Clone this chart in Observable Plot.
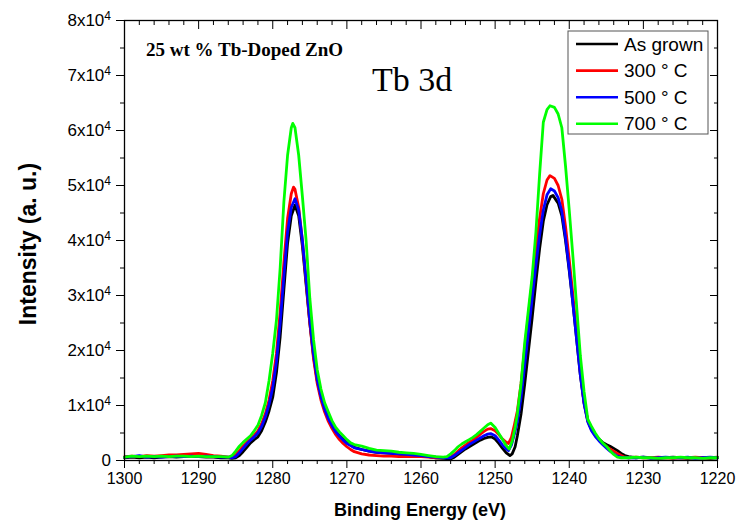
<!DOCTYPE html>
<html><head><meta charset="utf-8">
<script src="https://cdn.jsdelivr.net/npm/d3@7"></script>
<script src="https://cdn.jsdelivr.net/npm/@observablehq/plot@0.6"></script>
<style>body{margin:0;background:#fff}</style>
</head><body><div id="chart"></div>
<script>
// Binding energy (eV), intensity (counts) pairs
const asGrown = [[1300,500],[1299,600],[1298,500],[1297,600],[1296,500],[1295,600],[1294,700],[1293,600],[1292,700],[1291,800],[1290,700],[1289,600],[1288,600],[1287,500],[1286,500],[1285.5,400],[1285,500],[1284.5,900],[1284,1600],[1283.5,2400],[1283,3200],[1282.5,3800],[1282,4300],[1281.5,5400],[1281,7000],[1280.5,9000],[1280,11500],[1279.5,16000],[1279,22500],[1278.5,31000],[1278,39500],[1277.5,44500],[1277,46400],[1276.5,44500],[1276,39000],[1275.5,32000],[1275,25000],[1274.5,19000],[1274,14500],[1273.5,11500],[1273,9300],[1272.5,7700],[1272,6400],[1271.5,5300],[1271,4500],[1270.5,3900],[1270,3300],[1269.5,2800],[1269,2400],[1268,2000],[1267,1700],[1266,1500],[1265,1400],[1264,1300],[1263,1100],[1262,1000],[1261,900],[1260,800],[1259,700],[1258,500],[1257,400],[1256,300],[1255.5,600],[1255,1100],[1254.5,1600],[1254,2100],[1253.5,2500],[1253,2900],[1252.5,3300],[1252,3700],[1251.5,4000],[1251,4200],[1250.5,4300],[1250,3900],[1249.5,3100],[1249,2200],[1248.5,1400],[1248,900],[1247.7,1200],[1247.3,2500],[1247,4500],[1246.5,8500],[1246,14000],[1245.5,20000],[1245,26000],[1244.5,32500],[1244,38500],[1243.5,43500],[1243,46500],[1242.5,48000],[1242.2,48200],[1242,47800],[1241.5,46800],[1241,44500],[1240.5,40000],[1240,34500],[1239.5,28500],[1239,22000],[1238.5,15500],[1238,10500],[1237.5,7300],[1237,5700],[1236.5,4700],[1236,3900],[1235.5,3300],[1235,2900],[1234.5,2600],[1234,2200],[1233.5,1800],[1233,1300],[1232.5,900],[1232,700],[1231,500],[1230,600],[1229,500],[1228,400],[1227,500],[1226,600],[1225,500],[1224,400],[1223,500],[1222,500],[1221,400],[1220,500]];
const t300 = [[1300,700],[1299,800],[1298,700],[1297,900],[1296,800],[1295,900],[1294,1000],[1293,1000],[1292,1100],[1291,1200],[1290,1300],[1289,1100],[1288,900],[1287,800],[1286,600],[1285.5,600],[1285,1000],[1284.5,1800],[1284,2600],[1283.5,3300],[1283,3900],[1282.5,4600],[1282,5400],[1281.5,6700],[1281,8500],[1280.5,11000],[1280,14500],[1279.5,19500],[1279,27000],[1278.5,36000],[1278,44000],[1277.5,48500],[1277.2,49700],[1277,49300],[1276.5,46000],[1276,40000],[1275.5,32500],[1275,25000],[1274.5,18500],[1274,14000],[1273.5,11000],[1273,8800],[1272.5,7100],[1272,5800],[1271.5,4700],[1271,3800],[1270.5,3100],[1270,2500],[1269.5,2000],[1269,1600],[1268,1200],[1267,1000],[1266,900],[1265,800],[1264,800],[1263,700],[1262,700],[1261,700],[1260,700],[1259,600],[1258,500],[1257,500],[1256,600],[1255.5,1100],[1255,1700],[1254.5,2300],[1254,2800],[1253.5,3300],[1253,3700],[1252.5,4200],[1252,4800],[1251.5,5300],[1251,5700],[1250.6,5800],[1250,5400],[1249.5,4700],[1249,3900],[1248.5,3300],[1248.2,3100],[1247.8,4200],[1247.4,6500],[1247,9000],[1246.5,14000],[1246,20500],[1245.5,26500],[1245,32500],[1244.5,38500],[1244,44000],[1243.5,48500],[1243,51000],[1242.6,51800],[1242,51300],[1241.5,50000],[1241,47500],[1240.5,42500],[1240,36500],[1239.5,30000],[1239,23000],[1238.5,16000],[1238,10500],[1237.5,7200],[1237,5600],[1236.5,4600],[1236,3800],[1235.5,3100],[1235,2500],[1234.5,2100],[1234,1700],[1233.5,1300],[1233,900],[1232.5,600],[1232,500],[1231,600],[1230,500],[1229,500],[1228,600],[1227,500],[1226,400],[1225,500],[1224,500],[1223,600],[1222,500],[1221,500],[1220,600]];
const t500 = [[1300,600],[1299,700],[1298,900],[1297,600],[1296,700],[1295,600],[1294,700],[1293,800],[1292,700],[1291,800],[1290,700],[1289,800],[1288,700],[1287,600],[1286,600],[1285.5,500],[1285,700],[1284.5,1400],[1284,2200],[1283.5,3000],[1283,3700],[1282.5,4300],[1282,5000],[1281.5,6200],[1281,7900],[1280.5,10200],[1280,13300],[1279.5,18000],[1279,25000],[1278.5,33500],[1278,41500],[1277.5,46000],[1277,47600],[1276.5,45500],[1276,40000],[1275.5,32800],[1275,25500],[1274.5,19300],[1274,14700],[1273.5,11600],[1273,9300],[1272.5,7600],[1272,6300],[1271.5,5200],[1271,4400],[1270.5,3700],[1270,3100],[1269.5,2700],[1269,2300],[1268,2000],[1267,1700],[1266,1500],[1265,1400],[1264,1300],[1263,1200],[1262,1100],[1261,1000],[1260,900],[1259,700],[1258,600],[1257,500],[1256,500],[1255.5,900],[1255,1400],[1254.5,1900],[1254,2400],[1253.5,2900],[1253,3300],[1252.5,3700],[1252,4100],[1251.5,4500],[1251,4800],[1250.6,4900],[1250,4500],[1249.5,3700],[1249,2800],[1248.5,2100],[1248.2,1800],[1247.8,2800],[1247.4,4800],[1247,7000],[1246.5,11500],[1246,17500],[1245.5,23500],[1245,29500],[1244.5,35500],[1244,41000],[1243.5,45500],[1243,48300],[1242.5,49400],[1242,49000],[1241.5,47800],[1241,45300],[1240.5,40500],[1240,34800],[1239.5,28500],[1239,22000],[1238.5,15500],[1238,10300],[1237.5,7000],[1237,5400],[1236.5,4400],[1236,3600],[1235.5,2900],[1235,2300],[1234.5,1700],[1234,1200],[1233.5,800],[1233,600],[1232,500],[1231,500],[1230,600],[1229,400],[1228,500],[1227,600],[1226,500],[1225,500],[1224,600],[1223,400],[1222,500],[1221,600],[1220,500]];
const t700 = [[1300,600],[1299,800],[1298,700],[1297,800],[1296,700],[1295,800],[1294,700],[1293,800],[1292,800],[1291,700],[1290,800],[1289,700],[1288,700],[1287,700],[1286,600],[1285.5,900],[1285,1700],[1284.5,2600],[1284,3300],[1283.5,3900],[1283,4500],[1282.5,5400],[1282,6400],[1281.5,8200],[1281,10500],[1280.5,14500],[1280,19500],[1279.5,25500],[1279,35000],[1278.5,47000],[1278,55500],[1277.5,60500],[1277.3,61300],[1277,60500],[1276.5,55500],[1276,48000],[1275.5,40000],[1275,29500],[1274.5,22000],[1274,16500],[1273.5,13000],[1273,10500],[1272.5,8800],[1272,7200],[1271.5,6000],[1271,5200],[1270.5,4500],[1270,3800],[1269.5,3200],[1269,2900],[1268,2600],[1267,2200],[1266,1900],[1265,1800],[1264,1700],[1263,1500],[1262,1400],[1261,1300],[1260,1100],[1259,900],[1258,700],[1257,600],[1256.5,700],[1256,1200],[1255.5,1800],[1255,2500],[1254.5,3000],[1254,3400],[1253.5,3800],[1253,4200],[1252.5,4700],[1252,5300],[1251.5,5900],[1251,6500],[1250.6,6800],[1250,6000],[1249.5,4900],[1249,3800],[1248.5,2700],[1248.1,2100],[1247.7,3500],[1247.3,6000],[1247,8500],[1246.5,14000],[1246,21500],[1245.5,27500],[1245,33500],[1244.5,41500],[1244,52000],[1243.5,61500],[1243,63800],[1242.6,64500],[1242,64200],[1241.5,63000],[1241,60500],[1240.5,53500],[1240,45500],[1239.5,37000],[1239,28000],[1238.5,19000],[1238,12500],[1237.5,7500],[1237,6200],[1236.5,5000],[1236,4000],[1235.5,3200],[1235,2600],[1234.5,1800],[1234,1100],[1233.5,600],[1233,500],[1232,500],[1231,600],[1230,500],[1229,500],[1228,400],[1227,500],[1226,500],[1225,600],[1224,500],[1223,500],[1222,400],[1221,500],[1220,500]];

const seriesNames = ["As grown", "300 ° C", "500 ° C", "700 ° C"];
const seriesData = [asGrown, t300, t500, t700];
const seriesColors = ["#000000", "#ff0000", "#0000ff", "#00ff00"];
const xMajor = [1300, 1290, 1280, 1270, 1260, 1250, 1240, 1230, 1220];
const xMinor = [1298,1296,1294,1292,1288,1286,1284,1282,1278,1276,1274,1272,1268,1266,1264,1262,1258,1256,1254,1252,1248,1246,1244,1242,1238,1236,1234,1232,1228,1226,1224,1222];
const yMajor = [0, 10000, 20000, 30000, 40000, 50000, 60000, 70000, 80000];
const yMinor = [5000, 15000, 25000, 35000, 45000, 55000, 65000, 75000];
const yTickLabels = ["0", "1x10", "2x10", "3x10", "4x10", "5x10", "6x10", "7x10", "8x10"];

const rows = seriesData.flatMap((pts, k) => pts.map(([e, v]) => ({e, v, s: seriesNames[k]})));
const blank = () => "";
const SANS = "'Liberation Sans', Arial, sans-serif";
const SERIF = "'Liberation Serif', 'Times New Roman', serif";

const chart = Plot.plot({
  width: 742, height: 529,
  marginLeft: 124, marginRight: 25, marginTop: 20, marginBottom: 69,
  style: {fontFamily: SANS, fontSize: "16px", color: "#000", background: "#fff", overflow: "visible"},
  x: {domain: [1300, 1220]},
  y: {domain: [0, 80000]},
  color: {domain: seriesNames, range: seriesColors},
  marks: [
    Plot.line(rows, {x: "e", y: "v", z: "s", stroke: "s", strokeWidth: 2.8}),
    Plot.axisX(xMinor, {anchor: "bottom", tickSize: 4, tickFormat: blank, label: null}),
    Plot.axisX(xMajor, {anchor: "bottom", tickSize: 8, tickPadding: 4, tickFormat: d => String(d), label: null}),
    Plot.axisX(xMinor, {anchor: "top", tickSize: -4, tickFormat: blank, label: null}),
    Plot.axisX(xMajor, {anchor: "top", tickSize: -8, tickFormat: blank, label: null}),
    Plot.axisY(yMinor, {anchor: "left", tickSize: 4, tickFormat: blank, label: null}),
    Plot.axisY(yMajor, {anchor: "left", tickSize: 8, tickFormat: blank, label: null}),
    Plot.axisY(yMinor, {anchor: "right", tickSize: -4, tickFormat: blank, label: null}),
    Plot.axisY(yMajor, {anchor: "right", tickSize: -8, tickFormat: blank, label: null}),
    Plot.frame({stroke: "#000", strokeWidth: 1.3})
  ]
});

document.getElementById("chart").appendChild(chart);
const svg = d3.select(chart);
const yScale = chart.scale("y");

// y tick labels with superscript exponents, positioned through the plot's y scale
const yl = svg.append("g").attr("font-family", SANS).attr("font-size", 17).attr("text-anchor", "end");
yMajor.forEach((v, i) => {
  const t = yl.append("text").attr("x", 111).attr("y", yScale.apply(v)).attr("dy", "0.36em").text(yTickLabels[i]);
  if (v !== 0) t.append("tspan").attr("dy", "-0.55em").attr("font-size", "12px").text("4");
});

// axis titles
svg.append("text").attr("x", 420).attr("y", 516).attr("text-anchor", "middle")
  .attr("font-family", SANS).attr("font-weight", "bold").attr("font-size", 18)
  .text("Binding Energy (eV)");
svg.append("text").attr("transform", "translate(36,244) rotate(-90)").attr("text-anchor", "middle")
  .attr("font-family", SANS).attr("font-weight", "bold").attr("font-size", 23)
  .text("Intensity (a. u.)");

// annotations
svg.append("text").attr("x", 146).attr("y", 56).attr("text-anchor", "start")
  .attr("font-family", SERIF).attr("font-weight", "bold").attr("font-size", 19)
  .text("25 wt % Tb-Doped ZnO");
svg.append("text").attr("x", 372).attr("y", 91).attr("text-anchor", "start")
  .attr("font-family", SERIF).attr("font-size", 34)
  .text("Tb 3d");

// legend
const lg = svg.append("g");
lg.append("rect").attr("x", 568).attr("y", 31).attr("width", 140).attr("height", 103)
  .attr("fill", "#fff").attr("stroke", "#555").attr("stroke-width", 1);
seriesNames.forEach((name, k) => {
  const y = 44 + k * 26.6;
  lg.append("line").attr("x1", 576).attr("x2", 618).attr("y1", y).attr("y2", y)
    .attr("stroke", seriesColors[k]).attr("stroke-width", 2.6);
  lg.append("text").attr("x", 624).attr("y", y + 6.5).attr("text-anchor", "start")
    .attr("font-family", SANS).attr("font-size", 19)
    .text(name);
});
</script>
</body></html>
